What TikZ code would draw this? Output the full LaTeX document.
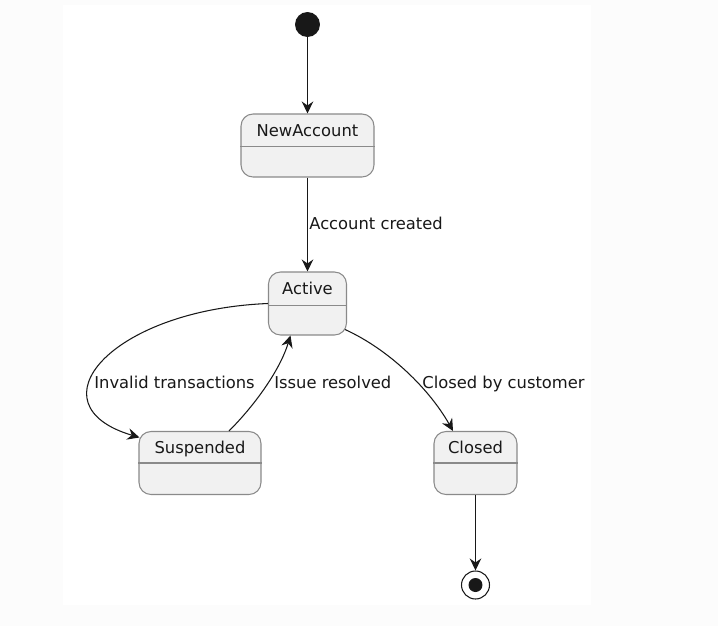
\documentclass[tikz,border=0pt]{standalone}
\usepackage{fontspec}
\setmainfont{DejaVu Sans}
\usetikzlibrary{arrows.meta}
\definecolor{statefill}{HTML}{F1F1F1}
\definecolor{stateline}{HTML}{8A8A8A}
\definecolor{ink}{HTML}{181818}
\begin{document}
\begin{tikzpicture}[x=0.02cm,y=-0.02cm,
  font=\fontsize{9.3pt}{11pt}\selectfont,
  state/.style={draw=stateline,fill=statefill,rounded corners=0.24cm,line width=0.6pt,text=ink,
    inner xsep=0pt,inner ysep=0.2cm,text height=0.24cm,text depth=0.62cm},
  bar/.style={draw=stateline,line width=0.6pt},
  trans/.style={draw=ink,line width=0.6pt,-{Stealth[length=0.24cm,width=0.23cm,inset=0.08cm]}},
  lbl/.style={text=ink,inner sep=0pt,anchor=base west}]
\useasboundingbox (0,0) rectangle (718,626);
\fill[black!1] (0,0) rectangle (718,626);
\fill[white] (63,5) rectangle (591,605);

\node[circle,fill=ink,minimum size=0.5cm,inner sep=0pt] (start) at (307.5,24.5) {};
\node[state,minimum width=2.66cm] (na) at (307.5,145.5) {NewAccount};
\node[state,minimum width=1.56cm] (act) at (307.5,303.5) {Active};
\node[state,minimum width=2.44cm] (susp) at (200,463) {Suspended};
\node[state,minimum width=1.66cm] (clo) at (475.5,463) {Closed};
\node[circle,draw=ink,fill=white,line width=0.6pt,minimum size=0.56cm,inner sep=0pt,
  path picture={\fill[ink] (path picture bounding box.center) circle (0.14cm);}] (stop) at (475.5,585) {};

\draw[bar] ([yshift=-0.66cm]na.north west) -- ([yshift=-0.66cm]na.north east);
\draw[bar] ([yshift=-0.68cm]act.north west) -- ([yshift=-0.68cm]act.north east);
\draw[bar] ([yshift=-0.64cm]susp.north west) -- ([yshift=-0.64cm]susp.north east);
\draw[bar] ([yshift=-0.64cm]clo.north west) -- ([yshift=-0.64cm]clo.north east);

\draw[trans] (start) -- (na);
\draw[trans] (na) -- (act);
\draw[trans] (act.west) .. controls (110,310) and (30,405) .. ([shift={(0.02cm,-0.13cm)}]susp.north west);
\draw[trans] ([xshift=0.58cm]susp.north) .. controls (255,405) and (280,370) .. ([xshift=-0.34cm]act.south);
\draw[trans] ([shift={(-0.04cm,-0.52cm)}]act.east) .. controls (390,350) and (430,390) .. ([xshift=-0.45cm]clo.north);
\draw[trans] (clo) -- (stop);

\node[lbl] (l1) at (309,229.5) {Account created};
\node[lbl] (l2) at (94,388.5) {Invalid transactions};
\node[lbl] (l3) at (274,388.5) {Issue resolved};
\node[lbl] (l4) at (422,388.5) {Closed by customer};
\end{tikzpicture}
\end{document}
